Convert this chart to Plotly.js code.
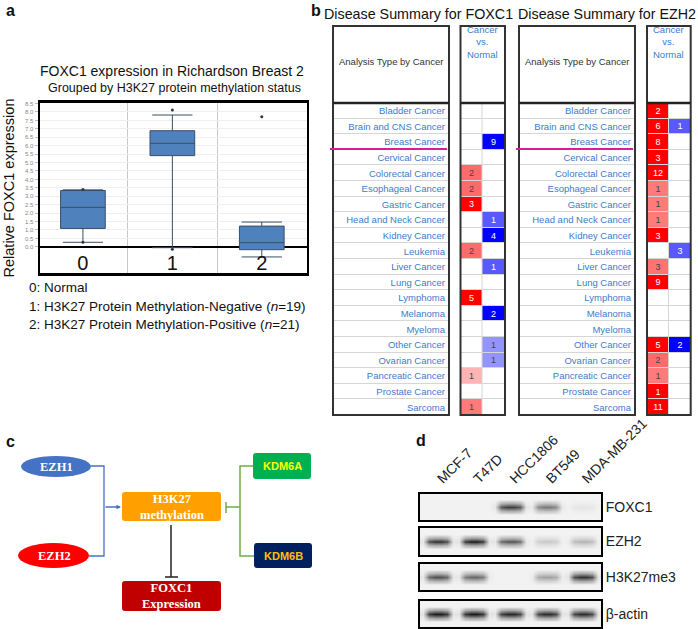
<!DOCTYPE html>
<html>
<head>
<meta charset="utf-8">
<script src="https://cdn.plot.ly/plotly-3.0.1.min.js"></script>
<style>
  html, body { margin: 0; padding: 0; background: #fff; }
  #fig { width: 698px; height: 629px; }
</style>
</head>
<body>
<div id="fig"></div>
<script>
// ---- panel a: FOXC1 box plot (Richardson Breast 2) ----
const groups = [0, 1, 2];
const groupNames = ["0", "1", "2"];
const q1 = [1.09, 5.41, -0.17];
const median = [2.34, 6.14, 0.25];
const q3 = [3.34, 6.89, 1.23];
const lowerWhisker = [0.27, -0.05, -0.6];
const upperWhisker = [3.38, 7.82, 1.47];
const pointX = [0, 0, 1, 1, 2];
const pointY = [3.4, 0.27, 8.12, -0.15, 7.72];
const yTicks = [-1, -0.5, 0, 0.5, 1, 1.5, 2, 2.5, 3, 3.5, 4, 4.5, 5, 5.5, 6, 6.5, 7, 7.5, 8, 8.5];

// ---- panel b: Oncomine disease summary ----
const cancers = ["Bladder Cancer", "Brain and CNS Cancer", "Breast Cancer", "Cervical Cancer",
  "Colorectal Cancer", "Esophageal Cancer", "Gastric Cancer", "Head and Neck Cancer",
  "Kidney Cancer", "Leukemia", "Liver Cancer", "Lung Cancer", "Lymphoma", "Melanoma",
  "Myeloma", "Other Cancer", "Ovarian Cancer", "Pancreatic Cancer", "Prostate Cancer", "Sarcoma"];
// counts of analyses (over / under) and colour shade (gene rank)
const foxc1Up = [null, null, null, null, 2, 2, 3, null, null, 2, null, null, 5, null, null, null, null, 1, null, 1];
const foxc1UpShade = [0, 0, 0, 0, 0.58, 0.58, 1, 0, 0, 0.58, 0, 0, 1, 0, 0, 0, 0, 0.3, 0, 0.52];
const foxc1Down = [null, null, 9, null, null, null, null, 1, 4, null, 1, null, null, 2, null, 1, 1, null, null, null];
const foxc1DownShade = [0, 0, 1, 0, 0, 0, 0, 0.65, 1, 0, 0.65, 0, 0, 1, 0, 0.42, 0.42, 0, 0, 0];
const ezh2Up = [2, 6, 8, 3, 12, 1, 1, 1, 3, null, 3, 9, null, null, null, 5, 2, 1, 1, 11];
const ezh2UpShade = [1, 1, 1, 1, 1, 0.52, 0.52, 0.52, 1, 0, 0.55, 1, 0, 0, 0, 1, 0.58, 0.52, 1, 1];
const ezh2Down = [null, 1, null, null, null, null, null, null, null, 3, null, null, null, null, null, 2, null, null, null, null];
const ezh2DownShade = [0, 0.65, 0, 0, 0, 0, 0, 0, 0, 0.65, 0, 0, 0, 0, 0, 1, 0, 0, 0, 0];

// ---- panel d: western blot band intensities ----
const lanes = ["MCF-7", "T47D", "HCC1806", "BT549", "MDA-MB-231"];
const proteins = ["FOXC1", "EZH2", "H3K27me3", "β-actin"];
const bandFOXC1 = [0, 0, 0.8, 0.55, 0.06];
const bandEZH2 = [0.88, 0.97, 0.72, 0.2, 0.3];
const bandH3K27me3 = [0.72, 0.62, 0, 0.38, 0.85];
const bandActin = [0.95, 0.96, 0.9, 0.88, 0.88];

// page geometry helpers (pixels -> paper)
const W = 698, H = 629;
const px = x => x / W;
const py = y => 1 - y / H;
const domX = (a, b) => [a / W, b / W];
const domY = (top, bot) => [1 - bot / H, 1 - top / H];

const link = "#3d7cc9";
const oncoScale = [[0, "#0000ff"], [0.5, "#ffffff"], [1, "#ff0000"]];

function tableZ(upShade, downShade) {
  return cancers.map((c, i) => [upShade[i], -downShade[i]]);
}
function tableText(up, down) {
  return cancers.map((c, i) => [up[i] == null ? "" : String(up[i]), down[i] == null ? "" : String(down[i])]);
}

// blot: spread each lane's intensity over a soft band
const bandX = [0.08, 0.85, 1, 1, 0.85, 0.08];
const bandY = [0, 0, 0.4, 1, 0.4, 0, 0];
function blotZ(band) {
  return bandY.map(v => {
    const row = [];
    band.forEach(b => bandX.forEach(h => row.push(b * h * v)));
    return row;
  });
}
const laneTicks = lanes.map((l, i) => i * bandX.length + (bandX.length - 1) / 2);

const traces = [];

traces.push({
  type: "box",
  x: groups,
  q1: q1, median: median, q3: q3,
  lowerfence: lowerWhisker, upperfence: upperWhisker,
  width: 0.5, whiskerwidth: 0.9,
  fillcolor: "#4f81bd",
  line: { color: "#3b4f66", width: 1 },
  boxpoints: false,
  hoverinfo: "skip",
  xaxis: "x", yaxis: "y"
});
traces.push({
  type: "scatter", mode: "markers",
  x: pointX, y: pointY,
  marker: { size: 3, color: "#333" },
  hoverinfo: "skip",
  xaxis: "x", yaxis: "y"
});

// table 1 (FOXC1): label column, then value column
traces.push({
  type: "heatmap", x: [0], y: cancers,
  z: cancers.map(() => [0]),
  colorscale: oncoScale, zmin: -1, zmax: 1, showscale: false,
  ygap: 1, hoverinfo: "skip",
  xaxis: "x3", yaxis: "y8"
});
traces.push({
  type: "heatmap", x: [0, 1], y: cancers,
  z: tableZ(foxc1UpShade, foxc1DownShade),
  text: tableText(foxc1Up, foxc1Down), texttemplate: "%{text}",
  textfont: { size: 9 },
  colorscale: oncoScale, zmin: -1, zmax: 1, showscale: false,
  xgap: 1, ygap: 1, hoverinfo: "skip",
  xaxis: "x2", yaxis: "y2"
});
// table 2 (EZH2)
traces.push({
  type: "heatmap", x: [0], y: cancers,
  z: cancers.map(() => [0]),
  colorscale: oncoScale, zmin: -1, zmax: 1, showscale: false,
  ygap: 1, hoverinfo: "skip",
  xaxis: "x5", yaxis: "y9"
});
traces.push({
  type: "heatmap", x: [0, 1], y: cancers,
  z: tableZ(ezh2UpShade, ezh2DownShade),
  text: tableText(ezh2Up, ezh2Down), texttemplate: "%{text}",
  textfont: { size: 9 },
  colorscale: oncoScale, zmin: -1, zmax: 1, showscale: false,
  xgap: 1, ygap: 1, hoverinfo: "skip",
  xaxis: "x4", yaxis: "y3"
});

// blots
const blots = [bandFOXC1, bandEZH2, bandH3K27me3, bandActin];
blots.forEach((b, i) => {
  traces.push({
    type: "heatmap",
    z: blotZ(b),
    zsmooth: "best",
    colorscale: [[0, "#f2f2f2"], [0.35, "#a8a8a8"], [1, "#111111"]],
    zmin: 0, zmax: 1, showscale: false, hoverinfo: "skip",
    xaxis: "x" + (6 + i), yaxis: "y" + (4 + i)
  });
});

const hidden = { visible: false, showgrid: false, zeroline: false, fixedrange: true };
function valueY(anchor) {
  return Object.assign({ domain: domY(103, 415), anchor: anchor, type: "category",
    categoryarray: cancers, autorange: "reversed" }, hidden);
}
function labelY(anchor) {
  return {
    domain: domY(103, 415), anchor: anchor, type: "category",
    categoryarray: cancers, autorange: "reversed",
    side: "right", ticklabelposition: "inside", ticks: "",
    tickfont: { size: 9.5, color: link },
    showgrid: false, zeroline: false, showline: false, fixedrange: true
  };
}

const layout = {
  width: W, height: H,
  margin: { l: 0, r: 0, t: 0, b: 0 },
  paper_bgcolor: "#ffffff",
  plot_bgcolor: "rgba(0,0,0,0)",
  font: { family: "Arial, Liberation Sans, sans-serif", color: "#111" },
  showlegend: false,

  xaxis: {
    domain: domX(40, 306.5), anchor: "y",
    range: [-0.48, 2.5],
    tickvals: groups, ticktext: groupNames,
    ticklabelposition: "inside", ticks: "",
    tickfont: { size: 20, color: "#111" },
    showgrid: false, zeroline: false,
    minor: { tickvals: [0.5, 1.5], showgrid: true, gridcolor: "#c8c8c8", gridwidth: 1, ticks: "" },
    showline: true, mirror: true, linecolor: "#000", linewidth: 2.5
  },
  yaxis: {
    domain: domY(102.7, 273.3), anchor: "x",
    range: [-1.57, 8.55],
    tickvals: yTicks, tickformat: ".1f",
    tickfont: { size: 6, color: "#888" },
    ticks: "outside", ticklen: 3, tickcolor: "#bbb",
    showgrid: true, gridcolor: "#efefef",
    zeroline: true, zerolinecolor: "#000", zerolinewidth: 2.5,
    showline: true, mirror: true, linecolor: "#000", linewidth: 2.5,
    title: { text: "Relative FOXC1 expression", font: { size: 14.5, color: "#111" }, standoff: 4 }
  },

  xaxis2: Object.assign({ domain: domX(460.5, 505), anchor: "y2", range: [-0.5, 1.5] }, hidden),
  yaxis2: valueY("x2"),
  xaxis3: Object.assign({ domain: domX(333, 448), anchor: "y8", range: [-0.5, 0.5] }, hidden),
  yaxis8: labelY("x3"),
  xaxis4: Object.assign({ domain: domX(647, 690.7), anchor: "y3", range: [-0.5, 1.5] }, hidden),
  yaxis3: valueY("x4"),
  xaxis5: Object.assign({ domain: domX(519, 634), anchor: "y9", range: [-0.5, 0.5] }, hidden),
  yaxis9: labelY("x5"),

  shapes: [],
  annotations: []
};

// blot axes
const blotRows = [[494, 520], [528, 555], [564, 590], [601, 627]];
blotRows.forEach((r, i) => {
  const xa = {
    domain: domX(420, 601), anchor: "y" + (4 + i),
    range: [-0.5, lanes.length * bandX.length - 0.5],
    showgrid: false, zeroline: false, ticks: "",
    showline: true, mirror: true, linecolor: "#000", linewidth: 2,
    showticklabels: false
  };
  if (i === 0) {
    Object.assign(xa, {
      side: "top", showticklabels: true,
      tickvals: laneTicks, ticktext: lanes, tickangle: -45,
      tickfont: { size: 14, color: "#222" }
    });
  }
  layout["xaxis" + (6 + i)] = xa;
  layout["yaxis" + (4 + i)] = {
    domain: domY(r[0], r[1]), anchor: "x" + (6 + i),
    range: [-0.5, bandY.length - 0.5],
    side: "right", tickvals: [(bandY.length - 1) / 2], ticktext: [proteins[i]],
    ticks: "", tickfont: { size: 14, color: "#222" },
    showgrid: false, zeroline: false,
    showline: true, mirror: true, linecolor: "#000", linewidth: 2
  };
});

const S = layout.shapes, A = layout.annotations;

function rect(x0, y0, x1, y1, opts) {
  S.push(Object.assign({ type: "rect", xref: "paper", yref: "paper",
    x0: px(x0), x1: px(x1), y0: py(y1), y1: py(y0) }, opts));
}
function line(x0, y0, x1, y1, color, width) {
  S.push({ type: "line", xref: "paper", yref: "paper",
    x0: px(x0), y0: py(y0), x1: px(x1), y1: py(y1), line: { color: color, width: width } });
}
function poly(pts, color, width) {
  const d = pts.map((p, i) => (i ? "L" : "M") + px(p[0]) + "," + py(p[1])).join(" ");
  S.push({ type: "path", xref: "paper", yref: "paper", path: d, line: { color: color, width: width } });
}
function roundBox(x0, y0, x1, y1, r, fill) {
  const p = (x, y) => px(x) + "," + py(y);
  const d = "M" + p(x0 + r, y0) + " L" + p(x1 - r, y0) + " Q" + p(x1, y0) + " " + p(x1, y0 + r) +
    " L" + p(x1, y1 - r) + " Q" + p(x1, y1) + " " + p(x1 - r, y1) +
    " L" + p(x0 + r, y1) + " Q" + p(x0, y1) + " " + p(x0, y1 - r) +
    " L" + p(x0, y0 + r) + " Q" + p(x0, y0) + " " + p(x0 + r, y0) + " Z";
  S.push({ type: "path", xref: "paper", yref: "paper", path: d, fillcolor: fill, line: { width: 0 } });
}
function text(x, y, t, size, opts) {
  A.push(Object.assign({ xref: "paper", yref: "paper", x: px(x), y: py(y), text: t,
    xanchor: "center", yanchor: "middle", showarrow: false,
    font: { size: size, color: "#111" } }, opts));
}

// panel letters
text(4, 10, "<b>a</b>", 16, { xanchor: "left" });
text(309, 10, "<b>b</b>", 16, { xanchor: "left" });
text(4, 441, "<b>c</b>", 16, { xanchor: "left" });
text(414, 440, "<b>d</b>", 16, { xanchor: "left" });

// panel a texts
text(171.5, 71, "FOXC1 expression in Richardson Breast 2", 14);
text(174, 88, "Grouped by H3K27 protein methylation status", 12.5);
text(27, 287, "0: Normal", 13.5, { xanchor: "left" });
text(27, 306, "1: H3K27 Protein Methylation-Negative (<i>n</i>=19)", 13.5, { xanchor: "left" });
text(27, 324, "2: H3K27 Protein Methylation-Positive (<i>n</i>=21)", 13.5, { xanchor: "left" });

// panel b frames
[[333, 449, 460.5, 505], [519, 635, 647, 690.7]].forEach(t => {
  rect(t[0], 103, t[1], 415, { fillcolor: "#d6d6d6", line: { width: 0 }, layer: "below" });
  rect(t[2], 103, t[3], 415, { fillcolor: "#d6d6d6", line: { width: 0 }, layer: "below" });
  rect(t[0], 26, t[1], 415, { line: { color: "#333", width: 2 } });
  rect(t[2], 26, t[3], 415, { line: { color: "#333", width: 2 } });
  line(t[0], 103, t[1], 103, "#222", 2.5);
  line(t[2], 103, t[3], 103, "#222", 2.5);
  text((t[0] + t[1]) / 2, 62, "Analysis Type by Cancer", 9.5, { font: { size: 9.5, color: "#333" } });
  text((t[2] + t[3]) / 2, 42, "Cancer<br>vs.<br>Normal", 9.5, { font: { size: 9.5, color: link } });
  line(t[0] - 3, 149, t[1] - 2, 149, "#e0199a", 2);
});
text(418, 14, "Disease Summary for FOXC1", 14.3);
text(607, 14, "Disease Summary for EZH2", 14.3);

// panel c: pathway diagram
const serifBold = { family: "Liberation Serif, Times New Roman, serif", color: "#fff", size: 12.5 };
S.push({ type: "circle", xref: "paper", yref: "paper", x0: px(21), x1: px(91), y0: py(477), y1: py(456),
  fillcolor: "#4472c4", line: { width: 0 } });
S.push({ type: "circle", xref: "paper", yref: "paper", x0: px(18), x1: px(89), y0: py(568), y1: py(543),
  fillcolor: "#ff0000", line: { width: 0 } });
roundBox(122, 492, 221, 521, 3, "#ffa000");
roundBox(122, 581, 221, 611, 3, "#c00000");
roundBox(253, 453, 311, 479, 3, "#00b050");
roundBox(254, 543, 312, 568, 3, "#002060");
poly([[91, 466], [104, 466], [104, 556], [89, 556]], "#4472c4", 1.3);
A.push({ xref: "paper", yref: "paper", x: px(121), y: py(507), ax: -17, ay: 0, text: "",
  showarrow: true, arrowhead: 2, arrowsize: 0.7, arrowwidth: 1.3, arrowcolor: "#4472c4" });
line(171, 525, 171, 577, "#222", 1.5);
line(165, 577, 178, 577, "#222", 1.5);
poly([[253, 466], [240, 466], [240, 556], [254, 556]], "#70ad47", 1.5);
line(240, 507, 226, 507, "#70ad47", 1.5);
line(226, 502, 226, 513, "#70ad47", 1.5);
text(56, 467, "<b>EZH1</b>", 12.5, { font: serifBold });
text(54, 556, "<b>EZH2</b>", 12.5, { font: serifBold });
text(171.5, 506.5, "<b>H3K27<br>methylation</b>", 12.5, { font: serifBold });
text(171.5, 596, "<b>FOXC1<br>Expression</b>", 12.5, { font: serifBold });
text(282, 466.5, "<b>KDM6A</b>", 11, { font: { size: 11, color: "#ffff00" } });
text(283, 556, "<b>KDM6B</b>", 11, { font: { size: 11, color: "#ffc000" } });

Plotly.newPlot("fig", traces, layout, { staticPlot: true });
</script>
</body>
</html>
